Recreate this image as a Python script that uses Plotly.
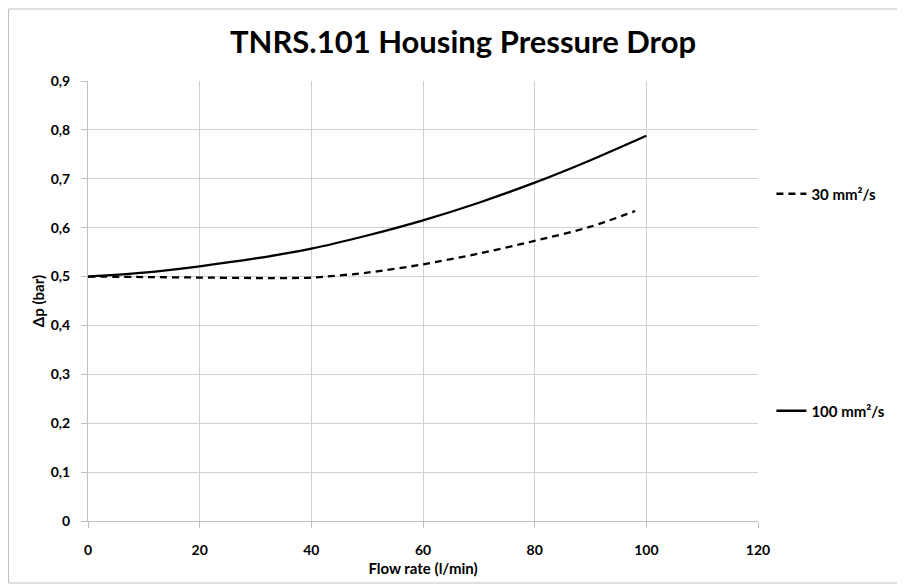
import plotly.graph_objects as go

flow_30 = [0, 10, 20, 30, 40, 50, 60, 70, 80, 90, 98]
dp_30 = [0.500, 0.499, 0.498, 0.497, 0.498, 0.508, 0.525, 0.547, 0.573, 0.602, 0.634]

flow_100 = [0, 10, 20, 30, 40, 50, 60, 70, 80, 90, 100]
dp_100 = [0.500, 0.508, 0.521, 0.537, 0.557, 0.584, 0.615, 0.651, 0.692, 0.738, 0.788]

title_text = "TNRS.101 Housing Pressure Drop"
x_title = "Flow rate (l/min)"
y_title = "Δp (bar)"
name_30 = "30 mm²/s"
name_100 = "100 mm²/s"

FONT = "Lato"
L, R, T, B = 80, 155, 73, 72
PW, PH = 905 - L - R, 585 - T - B

fig = go.Figure()
fig.add_trace(go.Scatter(x=flow_30, y=dp_30, mode="lines", name=name_30,
                         line=dict(color="black", width=2.3, dash="7px,5px",
                                   shape="spline", smoothing=0.8),
                         legend="legend"))
fig.add_trace(go.Scatter(x=flow_100, y=dp_100, mode="lines", name=name_100,
                         line=dict(color="black", width=2.3,
                                   shape="spline", smoothing=0.8),
                         legend="legend2"))

fig.update_layout(
    width=905, height=585,
    margin=dict(l=L, r=R, t=T, b=B),
    paper_bgcolor="white", plot_bgcolor="white",
    separators=",.",
    font=dict(family=FONT, color="black", size=13),
    title=dict(text="<b>" + title_text + "</b>", x=455 / 905, xanchor="center",
               y=1 - 34 / 585, yanchor="middle",
               font=dict(family=FONT, size=31, color="black")),
    legend=dict(x=1.02, xanchor="left", y=(PH - (193 - 80)) / PH, yanchor="middle",
                font=dict(family=FONT, size=15, color="black", weight="bold"),
                bgcolor="rgba(0,0,0,0)", itemwidth=30),
    legend2=dict(x=1.02, xanchor="left", y=(PH - (410 - 80)) / PH, yanchor="middle",
                 font=dict(family=FONT, size=15, color="black", weight="bold"),
                 bgcolor="rgba(0,0,0,0)", itemwidth=30),
    showlegend=True,
)

fig.update_xaxes(range=[0, 120], dtick=20, tick0=0,
                 showgrid=True, gridcolor="#d0d0d0", gridwidth=1.2,
                 showline=True, linecolor="#bfbfbf", linewidth=1,
                 ticks="outside", ticklen=6, tickcolor="#bfbfbf",
                 ticklabelstandoff=10,
                 zeroline=False,
                 tickfont=dict(family=FONT, size=14, color="black", weight="bold"),
                 title=dict(text="<b>" + x_title + "</b>", standoff=6,
                            font=dict(family=FONT, size=15, color="black")))
fig.update_yaxes(range=[0, 0.9], dtick=0.1, tick0=0,
                 showgrid=True, gridcolor="#d0d0d0", gridwidth=1.2,
                 showline=True, linecolor="#bfbfbf", linewidth=1,
                 ticks="outside", ticklen=6, tickcolor="#bfbfbf",
                 ticklabelstandoff=8,
                 zeroline=False,
                 tickfont=dict(family=FONT, size=14, color="black", weight="bold"),
                 title=dict(text="<b>" + y_title + "</b>", standoff=2,
                            font=dict(family=FONT, size=15, color="black")))

# outer chart border
fig.add_shape(type="rect", xref="paper", yref="paper",
              x0=(0.5 - L) / PW, x1=(893 - L) / PW,
              y0=(PH + T - 575) / PH, y1=(PH + T - 1) / PH,
              line=dict(color="#bfbfbf", width=1), layer="below")

fig.write_html("out.html")
